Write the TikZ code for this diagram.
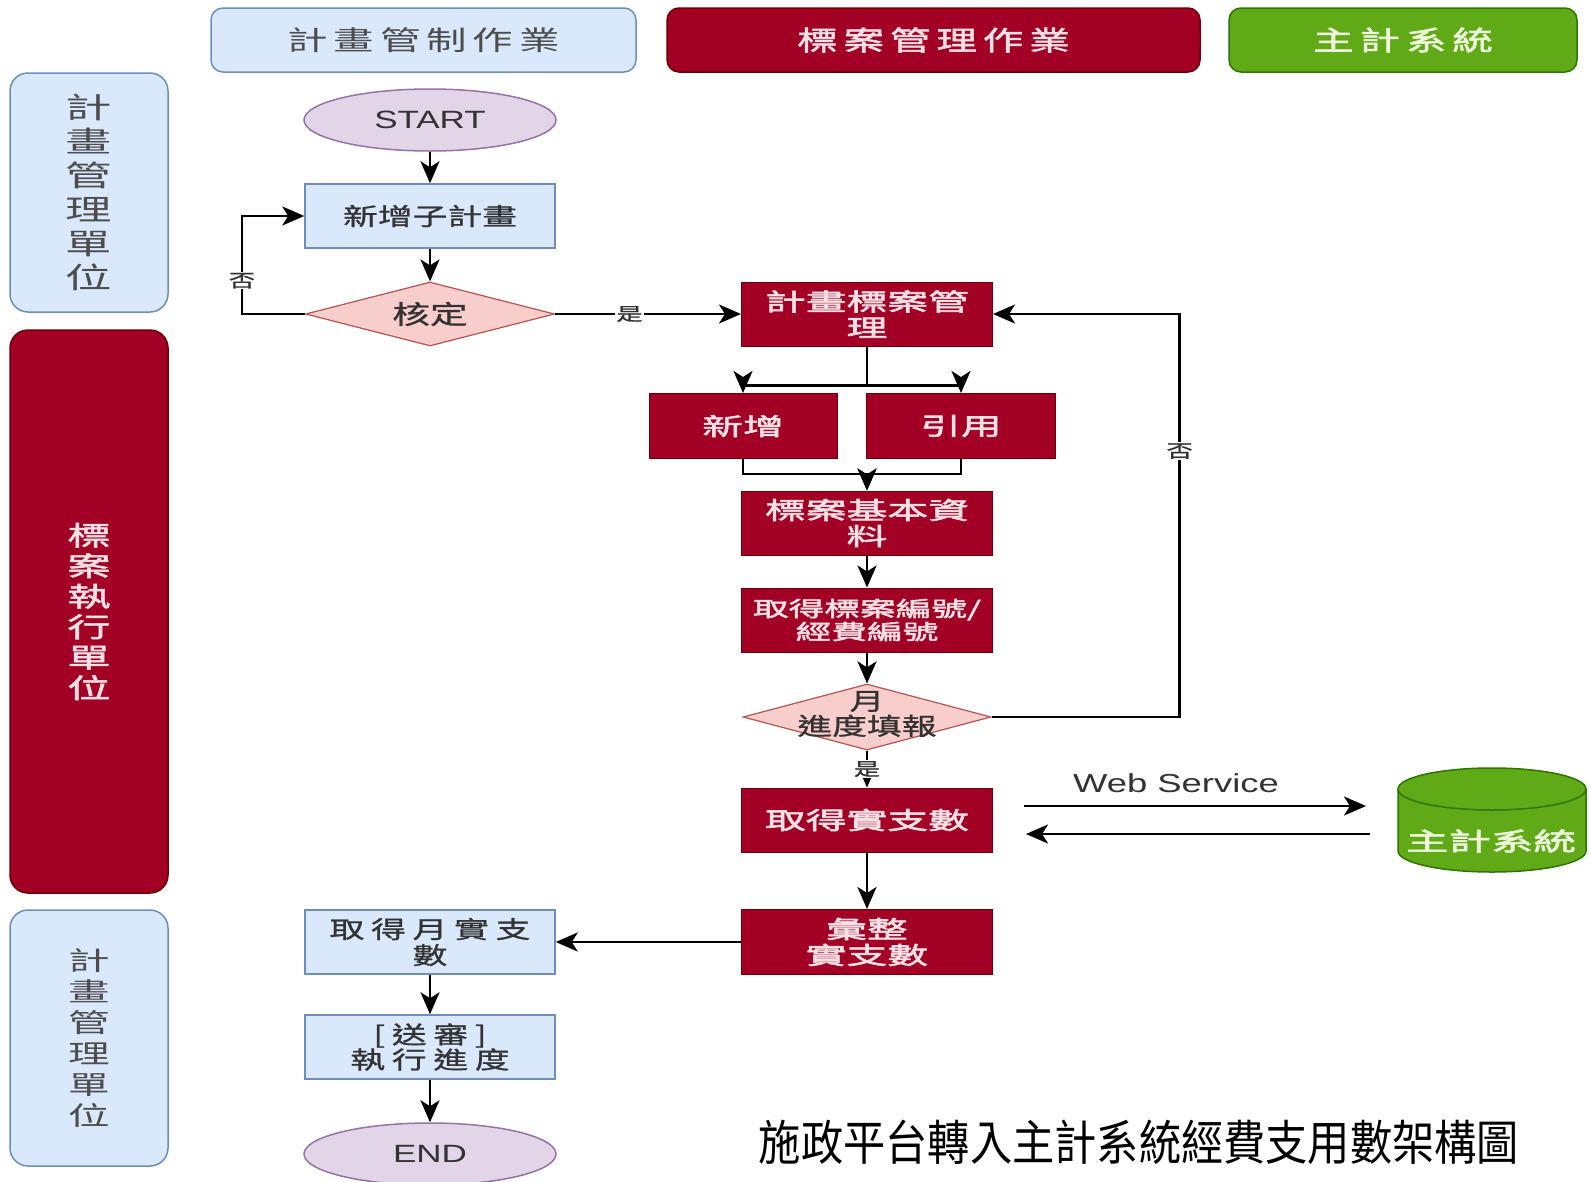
\documentclass[tikz,border=0pt]{standalone}
\usepackage{fontspec}
\usetikzlibrary{shapes.geometric,arrows.meta}
\newfontfamily\cjk[FakeStretch=1.45,FakeBold=1]{Noto Sans CJK TC}
\newfontfamily\cjkls[FakeStretch=1.45,LetterSpace=28,FakeBold=1]{Noto Sans CJK TC}
\newfontfamily\cjkhd[FakeStretch=1.5,LetterSpace=22]{Noto Sans CJK TC}
\newfontfamily\cjkhdb[FakeStretch=1.5,LetterSpace=22,FakeBold=2]{Noto Sans CJK TC}
\newfontfamily\cjklane[FakeStretch=1.6]{Noto Sans CJK TC}
\newfontfamily\cjklaneb[FakeStretch=1.6,FakeBold=2]{Noto Sans CJK TC}
\newfontfamily\cjkm[FakeStretch=1.7,FakeBold=2.5]{Noto Sans CJK TC}
\newfontfamily\cjkcap[FakeStretch=0.88]{Noto Sans CJK TC}
\newfontfamily\lat[FakeStretch=1.4]{Liberation Sans}
\definecolor{lb}{HTML}{DAE8FC}
\definecolor{lbd}{HTML}{6C8EBF}
\definecolor{rd}{HTML}{A20025}
\definecolor{rdd}{HTML}{6F0000}
\definecolor{gr}{HTML}{60A917}
\definecolor{grd}{HTML}{2D7600}
\definecolor{pk}{HTML}{F8CECC}
\definecolor{pkd}{HTML}{B85450}
\definecolor{pu}{HTML}{E1D5E7}
\definecolor{pud}{HTML}{9673A6}
\definecolor{tx}{HTML}{333333}
\definecolor{lanetx}{HTML}{4D4D4D}
\definecolor{pinktx}{HTML}{F6E0E4}
\definecolor{greentx}{HTML}{EEF8DC}
\begin{document}
\begin{tikzpicture}[x=1pt,y=-1pt,
  lanebox/.style={rectangle, rounded corners=18pt, line width=1.5pt, inner sep=0pt, align=center},
  hdrbox/.style={rectangle, rounded corners=12pt, line width=1.5pt, inner sep=0pt},
  bluebox/.style={rectangle, draw=lbd, fill=lb, line width=1.5pt, text=tx, inner sep=0pt, align=center},
  redbox/.style={rectangle, draw=rdd, fill=rd, line width=1pt, text=pinktx, inner sep=0pt, align=center},
  dia/.style={diamond, draw=pkd, fill=pk, line width=1.2pt, inner sep=0pt, aspect=3.9},
  term/.style={ellipse, draw=pud, fill=pu, line width=1.5pt, text=tx, inner sep=0pt},
  arr/.style={line width=2.6pt, -{Stealth[length=22pt,width=19pt,inset=6pt]}},
  lbl/.style={fill=white, text=tx, inner sep=1pt, font=\cjk\fontsize{18}{18}\selectfont},
  redtxt/.style={font=\cjkm\fontsize{24}{26}\selectfont},
  bluetxt/.style={font=\cjk\fontsize{24}{26}\selectfont}
]
\fill[white] (0,0) rectangle (1589,1181);
\useasboundingbox (0,0) rectangle (1589,1181);

% headers
\node[hdrbox, draw=lbd, fill=lb, text=lanetx, minimum width=425, minimum height=64, font=\cjkhd\fontsize{27}{27}\selectfont] (h1) at (423.5,40) {計畫管制作業};
\node[hdrbox, draw=rdd, fill=rd, text=pinktx, minimum width=533, minimum height=64, font=\cjkhdb\fontsize{27}{27}\selectfont] (h2) at (933.5,40) {標案管理作業};
\node[hdrbox, draw=grd, fill=gr, text=greentx, minimum width=348, minimum height=64, font=\cjkhdb\fontsize{27}{27}\selectfont] (h3) at (1403,40) {主計系統};

% lanes
\node[lanebox, draw=lbd, fill=lb, text=lanetx, minimum width=158, minimum height=239, font=\cjklane\fontsize{29}{34}\selectfont] (l1) at (89,192.5) {計\\畫\\管\\理\\單\\位};
\node[lanebox, draw=rdd, fill=rd, text=pinktx, minimum width=158, minimum height=563, font=\cjklaneb\fontsize{27}{30.5}\selectfont] (l2) at (89,611.5) {標\\案\\執\\行\\單\\位};
\node[lanebox, draw=lbd, fill=lb, text=lanetx, minimum width=158, minimum height=256, font=\cjklane\fontsize{26}{31}\selectfont] (l3) at (89,1038) {計\\畫\\管\\理\\單\\位};

% flow nodes
\node[term, minimum width=252, minimum height=62, font=\lat\fontsize{25}{25}\selectfont] (start) at (430,120) {START};
\node[bluebox, minimum width=250, minimum height=64, bluetxt] (n1) at (430,216) {新增子計畫};
\node[dia, minimum width=249, minimum height=64] (d1) at (430,314) {};
\node[text=tx, font=\cjk\fontsize{26}{26}\selectfont] (d1t) at (d1) {核定};
\node[redbox, minimum width=251, minimum height=64, redtxt] (m1) at (867,314) {計畫標案管\\理};
\node[redbox, minimum width=188, minimum height=65, redtxt] (a1) at (743,426) {新增};
\node[redbox, minimum width=189, minimum height=65, redtxt] (a2) at (961,426) {引用};
\node[redbox, minimum width=251, minimum height=64, redtxt] (b1) at (867,523) {標案基本資\\料};
\node[redbox, minimum width=251, minimum height=64, font=\cjkm\fontsize{21}{23}\selectfont] (b2) at (867,620) {取得標案編號/\\經費編號};
\node[dia, minimum width=248, minimum height=66] (d2) at (867,717) {};
\node[text=tx, align=center, font=\cjk\fontsize{24}{25}\selectfont] (d2t) at (867,714) {月\\進度填報};
\node[redbox, minimum width=251, minimum height=64, redtxt] (c1) at (867,820) {取得實支數};
\node[redbox, minimum width=251, minimum height=65, redtxt] (c2) at (867,942) {彙整\\實支數};
\node[bluebox, minimum width=250, minimum height=64, font=\cjkls\fontsize{24}{26}\selectfont] (p1) at (430,942) {取得月實支\\數};
\node[bluebox, minimum width=250, minimum height=64, font=\cjkls\fontsize{24}{25}\selectfont] (p2) at (430,1047) {[送審]\\執行進度};
\node[term, minimum width=252, minimum height=62, font=\lat\fontsize{25}{25}\selectfont] (end) at (430,1154) {END};

% cylinder 主計系統
\path[fill=gr, draw=grd, line width=1.5pt] (1398,789) -- (1398,851) arc[start angle=180, end angle=0, x radius=94, y radius=21] -- (1586,789) arc[start angle=0, end angle=-180, x radius=94, y radius=21] -- cycle;
\draw[grd, line width=1.5pt] (1398,789) arc[start angle=180, end angle=0, x radius=94, y radius=21];
\node[text=greentx, font=\cjkm\fontsize{25}{25}\selectfont] (db) at (1491,841) {主計系統};

% connectors
\draw[arr] (start) -- (n1);
\draw[arr] (n1) -- (d1);
\draw[arr] (d1.east) -- node[lbl, pos=0.4]{是} (m1.west);
\draw[arr] (d1.west) -- ++(-63,0) |- node[lbl, pos=0.17]{否} (n1.west);
\draw[arr] (m1.south) -- ++(0,39) -| (a1.north);
\draw[arr] (m1.south) -- ++(0,39) -| (a2.north);
\draw[arr] (a1.south) -- ++(0,15) -| (b1.north);
\draw[arr] (a2.south) -- ++(0,15) -| (b1.north);
\draw[arr] (b1) -- (b2);
\draw[arr] (b2) -- (d2.north);
\draw[arr] (d2.east) -- ++(188,0) |- node[lbl, pos=0.33]{否} (m1.east);
\draw[arr] (d2.south) -- node[lbl]{是} (c1.north);
\draw[arr] (c1) -- (c2);
\draw[arr] (c2.west) -- (p1.east);
\draw[arr] (p1) -- (p2);
\draw[arr] (p2) -- (end);

% web service
\coordinate (ws1) at (1024,806);
\coordinate (ws2) at (1366,806);
\coordinate (ws3) at (1370,834);
\coordinate (ws4) at (1026,834);
\draw[arr] (ws1) -- (ws2);
\draw[arr] (ws3) -- (ws4);
\node[text=tx, font=\lat\fontsize{26}{26}\selectfont] (wst) at (1176,783) {Web Service};

% caption
\node[text=black, font=\cjkcap\fontsize{48}{48}\selectfont] (cap) at (1139,1142) {施政平台轉入主計系統經費支用數架構圖};
\end{tikzpicture}
\end{document}
